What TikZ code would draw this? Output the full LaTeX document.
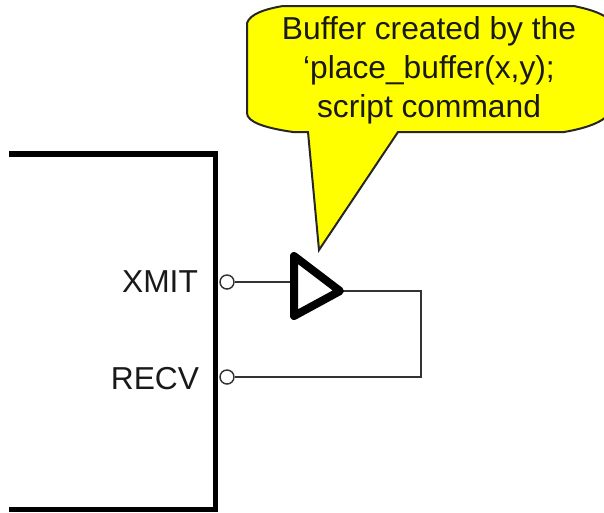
\documentclass[tikz,border=0pt]{standalone}
\usepackage{fontspec}
\setmainfont{Liberation Sans}
\tikzset{
 wire/.style={draw=black!80,line width=1.1pt},
 pinc/.style={circle,draw=black!80,line width=1.1pt,fill=white,minimum size=10.5pt,inner sep=0pt},
 lab/.style={font=\fontsize{23.8}{24}\selectfont,text=black!90,inner sep=0pt}
}
\begin{document}
\begin{tikzpicture}[x=0.75pt,y=-0.75pt]
\useasboundingbox (0,0) rectangle (604,512);
\fill[white] (0,0) rectangle (604,512);
\draw[line width=4pt,line join=miter] (9,154) -- (215.5,154) -- (215.5,509.5) -- (9,509.5);
\draw[fill={rgb,255:red,255;green,255;blue,0},draw=black!85,line width=1.5pt] (308,132) -- (293,132) .. controls (265,128) and (247,122) .. (247,113) -- (247,23) .. controls (250,14) and (265,9) .. (283,6) -- (574,6) .. controls (588,9) and (598,12) .. (606,17) -- (606,117) .. controls (598,124) and (582,129) .. (564,132) -- (398,132) -- (319,250) -- cycle;
\node[lab] (t1) at (429,31.5) {Buffer created by the};
\node[lab] (t2) at (429,70.5) {‘place\_buffer(x,y);};
\node[lab] (t3) at (429,109.5) {script command};
\node[lab] (xmit) at (160,282) {XMIT};
\node[lab] (recv) at (155,379) {RECV};
\node[pinc] (p1) at (227,282) {};
\node[pinc] (p2) at (227,377) {};
\coordinate (bl) at (294,282);
\coordinate (bo) at (340,291);
\coordinate (c1) at (421,291);
\coordinate (c2) at (421,377);
\draw[wire] (p1) -- (bl);
\draw[wire] (bo) -- (c1) -- (c2) -- (p2);
\draw[line width=6pt,line join=round,fill=white] (294,256) -- (340,291) -- (294,316) -- cycle;
\end{tikzpicture}
\end{document}
